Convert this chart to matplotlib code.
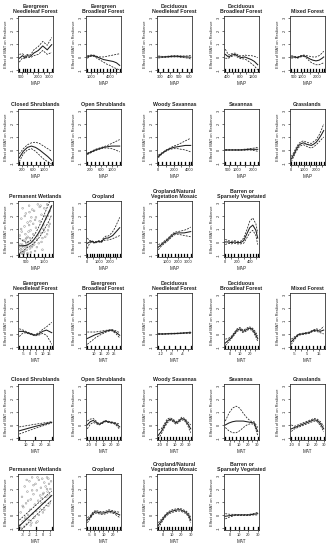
import matplotlib
matplotlib.use("Agg")
import matplotlib.pyplot as plt
import matplotlib.transforms as mtransforms

plt.rcParams['font.family'] = ['Liberation Sans', 'DejaVu Sans']

# ---------------- MAP panels ----------------
MAP_TITLES = ["Evergreen\nNeedleleaf Forest", "Evergreen\nBroadleaf Forest", "Deciduous\nNeedleleaf Forest",
              "Deciduous\nBroadleaf Forest", "Mixed Forest",
              "Closed Shrublands", "Open Shrublands", "Woody Savannas", "Savannas", "Grasslands",
              "Permanent Wetlands", "Cropland", "Cropland/Natural\nVegetation Mosaic", "Barren or\nSparsely Vegetated"]

MAP_X = [
    [300, 600, 800, 1000, 1300, 1600, 2000, 2400, 2800, 3200],
    [500, 1000, 1500, 2000, 2500, 3000, 3500, 4000, 4500, 5000, 5500],
    [280, 330, 380, 430, 480, 530, 580, 620],
    [350, 450, 550, 650, 750, 850, 950, 1050, 1150, 1250, 1350],
    [300, 500, 700, 900, 1100, 1300, 1500, 1700, 1900, 2100, 2300, 2400],
    [100, 250, 400, 550, 700, 850, 1000, 1150, 1300],
    [100, 250, 400, 550, 700, 850, 1000, 1150, 1300],
    [0, 500, 1000, 1500, 2000, 2500, 3000, 3500, 4000, 4200],
    [300, 600, 900, 1200, 1500, 1800, 2100, 2300],
    [0, 200, 400, 600, 800, 1000, 1200, 1400, 1600, 1800, 2000, 2200, 2400, 2600],
    [150, 350, 550, 750, 950, 1150, 1350, 1550, 1750, 1900],
    [0, 200, 400, 600, 800, 1000, 1200, 1400, 1600, 1800, 2000, 2200, 2400, 2600, 2800],
    [200, 500, 800, 1100, 1400, 1700, 2000, 2300, 2600, 2900, 3200],
    [0, 50, 100, 150, 200, 250, 300, 350, 400, 450, 500, 530],
]
MAP_MEAN = [
    [-0.1, 0.1, -0.05, 0.1, 0.05, 0.3, 0.5, 0.85, 0.55, 0.95],
    [0.0, 0.1, 0.1, 0.0, -0.1, -0.2, -0.25, -0.3, -0.35, -0.45, -0.65],
    [0.0, 0.0, 0.02, 0.05, 0.05, 0.02, 0.0, -0.02],
    [0.2, 0.0, 0.15, 0.2, 0.05, -0.05, 0.0, -0.1, -0.2, -0.35, -0.6],
    [0.0, 0.0, -0.05, 0.05, 0.1, 0.0, -0.15, -0.25, -0.3, -0.25, -0.1, 0.0],
    [-0.6, -0.1, 0.2, 0.3, 0.2, 0.0, -0.25, -0.5, -0.8],
    [-0.3, -0.15, 0.0, 0.1, 0.2, 0.25, 0.3, 0.3, 0.3],
    [-0.5, -0.25, -0.05, 0.1, 0.2, 0.25, 0.3, 0.35, 0.35, 0.35],
    [0.0, 0.0, 0.0, 0.0, 0.02, 0.05, 0.05, 0.05],
    [-0.7, -0.35, 0.05, 0.35, 0.5, 0.55, 0.45, 0.4, 0.35, 0.45, 0.6, 0.85, 1.15, 1.5],
    [-0.3, -0.3, -0.25, -0.1, 0.2, 0.6, 1.1, 1.7, 2.3, 2.8],
    [-0.1, 0.0, 0.05, -0.05, 0.0, 0.05, 0.0, 0.2, 0.3, 0.3, 0.4, 0.5, 0.7, 0.9, 1.1],
    [-0.4, -0.2, 0.0, 0.2, 0.45, 0.65, 0.7, 0.7, 0.7, 0.75, 0.8],
    [0.0, 0.0, -0.05, 0.0, -0.05, -0.05, 0.1, 0.6, 1.1, 1.3, 0.9, 0.3],
]
MAP_LO = [
    [-0.4, -0.05, -0.15, 0.0, -0.05, 0.1, 0.2, 0.5, 0.2, 0.35],
    [-0.1, 0.05, 0.05, -0.1, -0.25, -0.4, -0.55, -0.65, -0.8, -0.9, -1.0],
    [-0.08, -0.04, -0.02, 0.0, 0.0, -0.04, -0.08, -0.15],
    [-0.1, -0.1, 0.05, 0.1, -0.05, -0.15, -0.15, -0.3, -0.5, -0.7, -1.0],
    [-0.1, -0.05, -0.1, 0.0, 0.05, -0.1, -0.35, -0.5, -0.6, -0.6, -0.5, -0.45],
    [-0.9, -0.3, 0.0, 0.1, -0.1, -0.4, -0.7, -0.9, -1.1],
    [-0.35, -0.2, -0.05, 0.05, 0.15, 0.15, 0.1, 0.0, -0.15],
    [-0.6, -0.3, -0.1, 0.05, 0.1, 0.1, 0.05, 0.0, -0.1, -0.15],
    [-0.03, -0.02, -0.02, -0.03, -0.02, 0.0, -0.05, -0.1],
    [-0.9, -0.5, -0.1, 0.2, 0.35, 0.4, 0.3, 0.2, 0.15, 0.25, 0.4, 0.6, 0.8, 1.0],
    [-0.9, -0.7, -0.45, -0.3, -0.1, 0.2, 0.6, 1.1, 1.6, 2.1],
    [-0.5, -0.1, 0.0, -0.1, -0.05, 0.0, -0.05, 0.1, 0.15, 0.15, 0.2, 0.25, 0.35, 0.4, 0.5],
    [-0.6, -0.3, -0.1, 0.1, 0.35, 0.55, 0.6, 0.55, 0.5, 0.45, 0.4],
    [-0.2, -0.1, -0.15, -0.1, -0.15, -0.15, -0.1, 0.3, 0.7, 0.9, 0.5, -0.2],
]
MAP_HI = [
    [0.2, 0.25, 0.05, 0.2, 0.15, 0.55, 0.8, 1.2, 0.9, 1.5],
    [0.1, 0.15, 0.15, 0.05, 0.0, 0.0, 0.05, 0.1, 0.15, 0.2, 0.25],
    [0.08, 0.04, 0.06, 0.1, 0.1, 0.08, 0.08, 0.11],
    [0.6, 0.15, 0.25, 0.3, 0.15, 0.05, 0.15, 0.1, 0.1, 0.05, -0.05],
    [0.1, 0.05, 0.0, 0.1, 0.15, 0.1, 0.05, 0.0, 0.0, 0.1, 0.3, 0.45],
    [-0.3, 0.1, 0.4, 0.55, 0.6, 0.5, 0.3, 0.1, -0.1],
    [-0.25, -0.1, 0.05, 0.15, 0.25, 0.35, 0.5, 0.65, 0.8],
    [-0.4, -0.2, 0.0, 0.15, 0.3, 0.4, 0.55, 0.7, 0.85, 0.9],
    [0.03, 0.02, 0.02, 0.03, 0.06, 0.1, 0.15, 0.2],
    [-0.5, -0.2, 0.2, 0.5, 0.65, 0.7, 0.6, 0.55, 0.5, 0.65, 0.8, 1.1, 1.5, 2.0],
    [0.3, 0.1, -0.05, 0.1, 0.5, 1.0, 1.6, 2.3, 3.0, 3.5],
    [0.3, 0.1, 0.1, 0.0, 0.05, 0.1, 0.05, 0.3, 0.45, 0.45, 0.6, 0.8, 1.1, 1.5, 1.9],
    [-0.2, -0.1, 0.1, 0.3, 0.55, 0.75, 0.8, 0.85, 0.9, 1.0, 1.15],
    [0.2, 0.1, 0.05, 0.1, 0.05, 0.05, 0.3, 0.9, 1.6, 1.85, 1.4, 0.7],
]
MAP_XTICKS = [
    [500, 1000, 1500, 2000, 2500, 3000],
    [1000, 2000, 3000, 4000, 5000],
    [300, 400, 500, 600],
    [400, 600, 800, 1000, 1200],
    [500, 1000, 1500, 2000],
    [200, 400, 600, 800, 1000, 1200],
    [200, 400, 600, 800, 1000, 1200],
    [0, 1000, 2000, 3000, 4000],
    [500, 1000, 1500, 2000],
    [0, 500, 1000, 1500, 2000, 2500],
    [500, 1000, 1500],
    [0, 500, 1000, 1500, 2000, 2500],
    [1000, 2000, 3000],
    [0, 100, 200, 300, 400, 500],
]
MAP_XLABELS = [
    ["500", "", "", "2000", "", "3000"],
    ["1000", "", "", "4000", ""],
    ["300", "400", "500", "600"],
    ["400", "", "800", "", "1200"],
    ["500", "1000", "", "2000"],
    ["200", "", "600", "", "1000", ""],
    ["200", "", "600", "", "1000", ""],
    ["0", "", "2000", "", "4000"],
    ["500", "1000", "", "2000"],
    ["0", "", "1000", "", "2000", ""],
    ["500", "", "1500"],
    ["0", "", "1000", "", "2000", ""],
    ["1000", "2000", "3000"],
    ["0", "", "200", "", "400", ""],
]

# ---------------- MAT panels ----------------
MAT_TITLES = ["Evergreen\nNeedleleaf Forest", "Evergreen\nBroadleaf Forest", "Deciduous\nNeedleleaf Forest",
              "Deciduous\nBroadleaf Forest", "Mixed Forest",
              "Closed Shrublands", "Open Shrublands", "Woody Savannas", "Savannas", "Grasslands",
              "Permanent Wetlands", "Cropland", "Cropland/Natural\nVegetation Mosaic", "Barren or\nSparsely Vegetated"]

MAT_X = [
    [-8, -5, -2, 1, 4, 7, 10, 13, 16, 17],
    [5, 8, 11, 14, 17, 20, 23, 26, 29],
    [-13, -11, -9, -7, -5, -3, -1],
    [-5, -2, 1, 4, 7, 10, 13, 16, 19, 22, 25, 28],
    [-8, -5, -2, 1, 4, 7, 10, 13, 16, 19],
    [6, 16, 27],
    [-12, -8, -4, 0, 4, 8, 12, 16, 20, 24, 28, 32],
    [-12, -8, -4, 0, 4, 8, 12, 16, 20, 24, 28, 32],
    [-5, -1, 3, 7, 11, 15, 19, 23, 27, 31],
    [-10, -6, -2, 2, 6, 10, 14, 18, 22, 26, 30],
    [-3.5, -1.1, 1.3],
    [-8, -5, -2, 1, 4, 7, 10, 13, 16, 19, 22, 25, 28],
    [-5, -2, 1, 4, 7, 10, 13, 16, 19, 22, 25, 28, 30],
    [-5, 0, 5, 10, 15, 20, 25, 30],
]
MAT_MEAN = [
    [0.2, 0.2, 0.1, 0.0, -0.1, 0.0, 0.2, 0.3, 0.15, 0.1],
    [-0.35, -0.2, -0.05, 0.05, 0.15, 0.25, 0.3, 0.15, -0.1],
    [0.0, 0.0, 0.02, 0.03, 0.05, 0.08, 0.1],
    [-0.7, -0.5, -0.3, 0.0, 0.3, 0.4, 0.2, 0.3, 0.45, 0.4, 0.1, -0.35],
    [-0.6, -0.3, -0.05, 0.0, 0.05, 0.1, 0.25, 0.3, 0.2, 0.3],
    [-0.45, -0.12, 0.2],
    [0.0, 0.25, 0.35, 0.2, 0.05, 0.15, 0.3, 0.25, 0.2, 0.15, 0.05, -0.15],
    [-0.8, -0.5, -0.1, 0.3, 0.45, 0.35, 0.15, 0.3, 0.5, 0.4, 0.1, -0.3],
    [0.0, 0.15, 0.25, 0.3, 0.3, 0.3, 0.25, 0.2, 0.15, -0.5],
    [-0.3, -0.2, -0.1, 0.0, 0.1, 0.2, 0.3, 0.4, 0.35, 0.1, -0.3],
    [-0.85, 0.33, 1.5],
    [-0.4, -0.2, 0.1, 0.25, 0.2, 0.15, 0.15, 0.2, 0.3, 0.25, 0.2, 0.1, 0.0],
    [-0.8, -0.5, -0.2, 0.05, 0.2, 0.3, 0.35, 0.4, 0.4, 0.3, 0.2, -0.05, -0.4],
    [-0.1, -0.05, 0.0, 0.0, 0.0, 0.0, 0.05, 0.1],
]
MAT_LO = [
    [-0.2, 0.1, 0.05, -0.05, -0.15, -0.1, 0.05, -0.1, -0.6, -0.8],
    [-0.8, -0.55, -0.3, -0.1, 0.05, 0.2, 0.25, 0.05, -0.3],
    [-0.05, -0.03, -0.01, 0.0, 0.02, 0.05, 0.05],
    [-0.9, -0.65, -0.4, -0.1, 0.2, 0.3, 0.1, 0.2, 0.35, 0.3, -0.05, -0.55],
    [-0.8, -0.4, -0.1, -0.05, 0.0, 0.05, 0.2, 0.2, 0.1, 0.0],
    [-0.7, -0.27, 0.15],
    [-0.3, 0.05, 0.2, 0.1, 0.0, 0.1, 0.25, 0.2, 0.15, 0.1, -0.05, -0.35],
    [-1.1, -0.7, -0.25, 0.15, 0.35, 0.25, 0.05, 0.2, 0.4, 0.3, -0.05, -0.6],
    [-0.2, -0.45, -0.6, -0.6, -0.45, -0.2, 0.0, 0.1, 0.05, -0.8],
    [-0.5, -0.3, -0.2, -0.1, 0.0, 0.1, 0.2, 0.3, 0.25, -0.05, -0.5],
    [-1.3, -0.07, 1.15],
    [-0.6, -0.3, 0.0, 0.15, 0.1, 0.05, 0.05, 0.1, 0.2, 0.15, 0.1, -0.05, -0.2],
    [-1.0, -0.65, -0.3, -0.05, 0.1, 0.2, 0.25, 0.3, 0.3, 0.2, 0.1, -0.2, -0.6],
    [-0.3, -0.15, -0.05, -0.03, -0.03, -0.04, 0.0, 0.0],
]
MAT_HI = [
    [0.4, 0.3, 0.15, 0.05, -0.05, 0.1, 0.35, 0.55, 0.8, 0.9],
    [0.15, 0.15, 0.15, 0.2, 0.25, 0.3, 0.35, 0.25, 0.1],
    [0.05, 0.03, 0.05, 0.06, 0.08, 0.11, 0.15],
    [-0.4, -0.35, -0.2, 0.1, 0.4, 0.5, 0.3, 0.4, 0.55, 0.5, 0.25, -0.15],
    [-0.4, -0.2, 0.0, 0.05, 0.1, 0.15, 0.3, 0.4, 0.3, 0.6],
    [-0.15, 0.05, 0.25],
    [0.3, 0.45, 0.5, 0.3, 0.1, 0.2, 0.35, 0.3, 0.25, 0.2, 0.15, 0.05],
    [-0.4, -0.3, 0.05, 0.45, 0.55, 0.45, 0.25, 0.4, 0.6, 0.5, 0.25, 0.0],
    [0.3, 0.9, 1.3, 1.45, 1.3, 0.9, 0.55, 0.3, 0.25, -0.2],
    [0.0, -0.1, 0.0, 0.1, 0.2, 0.3, 0.4, 0.5, 0.45, 0.25, -0.1],
    [-0.4, 0.73, 1.85],
    [-0.2, -0.1, 0.2, 0.35, 0.3, 0.25, 0.25, 0.3, 0.4, 0.35, 0.3, 0.25, 0.2],
    [-0.6, -0.35, -0.1, 0.15, 0.3, 0.4, 0.45, 0.5, 0.5, 0.4, 0.3, 0.1, -0.2],
    [0.1, 0.05, 0.05, 0.03, 0.03, 0.04, 0.1, 0.2],
]
MAT_XTICKS = [
    [-5, 0, 5, 10, 15],
    [10, 15, 20, 25],
    [-12, -10, -8, -6, -4, -2],
    [0, 5, 10, 15, 20, 25],
    [-5, 0, 5, 10, 15],
    [10, 15, 20, 25],
    [-10, 0, 10, 20, 30],
    [-10, 0, 10, 20, 30],
    [0, 5, 10, 15, 20, 25, 30],
    [-10, 0, 10, 20, 30],
    [-3, -2, -1, 0, 1],
    [-5, 0, 5, 10, 15, 20, 25],
    [0, 10, 20, 30],
    [0, 10, 20, 30],
]
MAT_XLABELS = [
    ["-5", "0", "5", "10", "15"],
    ["10", "15", "20", "25"],
    ["-12", "", "-8", "", "-4", ""],
    ["0", "", "10", "", "20", ""],
    ["-5", "", "5", "", "15"],
    ["10", "15", "20", "25"],
    ["-10", "0", "10", "20", "30"],
    ["-10", "0", "10", "20", "30"],
    ["0", "", "10", "", "20", "", "30"],
    ["-10", "0", "10", "20", "30"],
    ["-3", "-2", "-1", "0", "1"],
    ["-5", "0", "", "10", "", "20", ""],
    ["0", "10", "20", "30"],
    ["0", "10", "20", "30"],
]

# scatter of partial residuals in the two Permanent Wetlands panels
WET_MAP_PX = [180, 220, 260, 300, 330, 370, 400, 430, 470, 500, 540, 570, 600, 640, 680, 720, 760, 800,
              850, 900, 950, 1000, 1050, 1100, 1150, 1200, 1250, 1300, 1350, 1400, 1450, 1500, 1550, 1600,
              1650, 1700, 1750, 1800, 1850, 250, 350, 450, 550, 650, 750, 850, 950, 1050, 1150, 1250,
              1350, 1450, 1550, 1650, 1750, 300, 500, 700, 900, 1100, 1300, 1500, 1700, 200, 600, 1000, 1400, 1800,
              240, 320, 420, 520, 620, 720, 820, 920, 160, 280, 380, 480, 580, 680, 780]
WET_MAP_PY = [0.5, -0.6, 1.8, -0.2, 2.6, 0.1, -0.8, 1.2, -0.4, 2.2, 0.3, -0.9, 1.5, 0.0, 2.8, -0.5, 0.9, 1.9,
              -0.3, 0.6, 2.4, -0.7, 1.1, 0.2, 2.9, -0.1, 1.6, 0.7, 2.1, -0.6, 1.3, 2.6, 0.4, 1.8,
              2.9, 0.9, 2.3, 1.4, 2.7, 1.0, -0.3, 2.0, -0.6, 0.8, 1.6, 2.5, -0.2, 1.9, 0.5, 2.7,
              0.0, 1.0, 2.0, 0.6, 1.2, -0.9, 0.2, 2.3, 1.4, -0.4, 2.8, 0.8, 2.0, -0.2, 0.4, 1.7, 0.3, 2.4,
              -0.8, -0.5, -0.7, -0.1, -0.9, 0.3, -0.4, 0.0, -0.5, 0.8, -0.9, 0.6, -0.3, 1.3, -0.8]
WET_MAT_PX = [-3.4, -3.3, -3.2, -3.1, -3.0, -2.9, -2.8, -2.7, -2.6, -2.5, -2.4, -2.3, -2.2, -2.1, -2.0, -1.9,
              -1.8, -1.7, -1.6, -1.5, -1.4, -1.3, -1.2, -1.1, -1.0, -0.9, -0.8, -0.7, -0.6, -0.5, -0.4,
              -0.3, -0.2, -0.1, 0.0, 0.1, 0.2, 0.3, 0.4, 0.5, 0.6, 0.7, 0.8, 0.9, 1.0, 1.1, 1.2,
              -3.0, -2.6, -2.2, -1.8, -1.4, -1.0, -0.6, -0.2, 0.2, 0.6, 1.0, -2.4, -1.6, -0.8, 0.0, 0.8]
WET_MAT_PY = [-0.8, 0.2, -1.0, 1.4, -0.5, 0.6, -0.9, 2.2, -0.3, 0.9, -0.7, 1.8, 0.0, -0.4, 2.6, 0.4,
              1.2, -0.6, 2.9, 0.1, 1.6, -0.2, 0.8, 2.4, 0.3, 1.9, -0.5, 1.1, 2.7, 0.5, 1.5,
              2.1, 0.9, 2.8, 0.2, 1.7, 2.5, 1.0, 2.2, 1.4, 2.9, 1.8, 0.7, 2.4, 1.5, 2.0, 2.6,
              0.7, -0.2, 1.1, -0.8, 2.3, -0.6, 0.0, 1.3, 0.4, 2.0, 0.9, 2.7, 1.9, 2.9, 1.6, 2.8]

YTICKS = [-1, 0, 1, 2, 3]
YTICKLABELS = ["-1", "0", "1", "2", "3"]
YLABEL = "Effect of MAT on Resilience"

# ---------------- layout ----------------
W, H = 326, 550
fig = plt.figure(figsize=(W / 100, H / 100), dpi=100)
COL_LEFT = [18, 86, 157, 224, 290]
ROW_TOP = [16, 109, 201, 293, 384, 474]
BOX_W, BOX_H = 35, 56

LINE_C = "#1e1e1e"


def panel(row, col, title, xs, mean, lo, hi, xticks, xlabels, xname, px=None, py=None):
    left = COL_LEFT[col] / W
    bottom = 1 - (ROW_TOP[row] + BOX_H) / H
    ax = fig.add_axes([left, bottom, BOX_W / W, BOX_H / H])
    xmin, xmax = min(xs), max(xs)
    pad = 0.04 * (xmax - xmin)
    ax.set_xlim(xmin - pad, xmax + pad)
    ax.set_ylim(-1.16, 3.16)
    if px is not None:
        ax.scatter(px, py, s=1.5, facecolors="none", edgecolors="#8a8a8a", linewidths=0.35, zorder=1)
    ax.plot(xs, mean, color=LINE_C, lw=0.75, zorder=3)
    ax.plot(xs, lo, color=LINE_C, lw=0.55, ls=(0, (2.5, 1.5)), zorder=3)
    ax.plot(xs, hi, color=LINE_C, lw=0.55, ls=(0, (2.5, 1.5)), zorder=3)
    trans = mtransforms.blended_transform_factory(ax.transData, ax.transAxes)
    for xv in xs:
        ax.plot([xv, xv], [0, 0.045], color="black", lw=0.9, transform=trans, zorder=4)
    ax.set_xticks(xticks)
    ax.set_xticklabels(xlabels)
    ax.set_yticks(YTICKS)
    ax.set_yticklabels(YTICKLABELS, rotation=90, va="center")
    ax.tick_params(axis="both", length=1.5, width=0.45, labelsize=2.9, pad=1, color="#222222",
                   labelcolor="#222222")
    for s in ax.spines.values():
        s.set_linewidth(0.55)
        s.set_color("#222222")
    ax.set_title(title, fontsize=3.8, fontweight="bold", pad=2.5, color="#222222", linespacing=1.0)
    ax.set_xlabel(xname, fontsize=3.3, labelpad=1, color="#222222")
    ax.set_ylabel(YLABEL, fontsize=2.8, labelpad=1.5, color="#222222")
    return ax


for i in range(14):
    r, c = divmod(i, 5)
    extra = (WET_MAP_PX, WET_MAP_PY) if MAP_TITLES[i] == "Permanent Wetlands" else (None, None)
    panel(r, c, MAP_TITLES[i], MAP_X[i], MAP_MEAN[i], MAP_LO[i], MAP_HI[i],
          MAP_XTICKS[i], MAP_XLABELS[i], "MAP", *extra)

for i in range(14):
    r, c = divmod(i, 5)
    extra = (WET_MAT_PX, WET_MAT_PY) if MAT_TITLES[i] == "Permanent Wetlands" else (None, None)
    panel(r + 3, c, MAT_TITLES[i], MAT_X[i], MAT_MEAN[i], MAT_LO[i], MAT_HI[i],
          MAT_XTICKS[i], MAT_XLABELS[i], "MAT", *extra)

fig.savefig("out.png", dpi=100, facecolor="white")
